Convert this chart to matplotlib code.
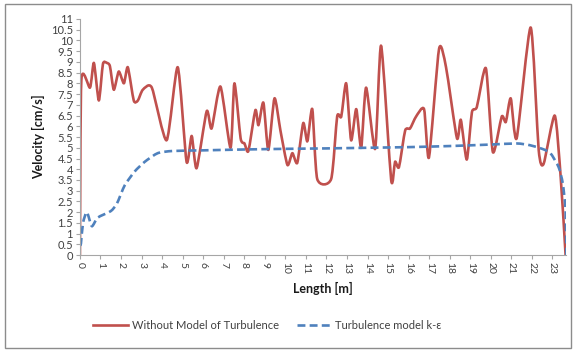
import numpy as np
import matplotlib
matplotlib.use("Agg")
import matplotlib.pyplot as plt
from matplotlib.patches import Rectangle, PathPatch
from matplotlib.path import Path
from matplotlib.lines import Line2D

# red series: without model of turbulence
x_red = [0, 0.07, 0.49, 0.68, 0.92, 1.12, 1.31, 1.46, 1.65, 1.89, 2.14, 2.33,
         2.62, 2.82, 3.06, 3.5, 4.22, 4.76, 5.19, 5.44, 5.68, 6.17, 6.41, 6.84,
         7.33, 7.52, 7.82, 8.01, 8.2, 8.54, 8.69, 8.93, 9.17, 9.47, 9.76, 10.1,
         10.34, 10.58, 10.87, 11.07, 11.31, 11.55, 12.23, 12.52, 12.72, 12.96,
         13.2, 13.45, 13.69, 13.93, 14.37, 14.66, 15.15, 15.34, 15.53, 15.83,
         16.07, 16.36, 16.75, 16.99, 17.48, 17.82, 18.35, 18.54, 18.83, 19.08,
         19.32, 19.76, 20.1, 20.53, 20.73, 20.97, 21.26, 21.94, 22.33, 22.57,
         23.11, 23.4, 23.64]
v_red = [0, 8.15, 7.8, 8.95, 7.2, 8.9, 8.95, 8.8, 7.7, 8.55, 8.0, 8.75,
         7.2, 7.2, 7.7, 7.8, 5.35, 8.75, 4.35, 5.55, 4.05, 6.7, 5.9, 7.85,
         5.0, 8.0, 5.45, 5.2, 4.85, 6.75, 6.05, 7.1, 4.9, 7.3, 5.8, 4.2,
         4.75, 4.3, 6.15, 5.3, 6.8, 3.55, 3.55, 6.45, 6.45, 8.0,
         5.35, 6.8, 5.0, 7.8, 4.95, 9.75, 3.5, 4.35, 4.1, 5.8,
         5.9, 6.45, 6.8, 4.55, 9.6, 8.75, 5.45, 6.3, 4.45, 6.65,
         6.9, 8.7, 4.8, 6.45, 6.2, 7.3, 5.45, 10.6, 4.9, 4.25,
         6.5, 3.65, 0]

# blue series: turbulence model k-e
x_blue = [0, 0.05, 0.15, 0.34, 0.58, 0.87, 1.5, 1.8, 2.18, 2.67, 3.16, 3.79,
          4.51, 6, 8, 10, 12, 14, 16, 18, 20, 21.26, 21.9, 22.5, 22.9, 23.3,
          23.5, 23.64, 23.68]
v_blue = [0.45, 0.55, 1.5, 2.0, 1.35, 1.75, 2.05, 2.4, 3.25, 3.9, 4.35, 4.75,
          4.85, 4.88, 4.92, 4.95, 4.97, 5.0, 5.03, 5.08, 5.15, 5.2, 5.12, 4.95,
          4.75, 4.1, 3.35, 2.1, 0]

x_ticks = list(range(0, 24))
y_ticks = [i * 0.5 for i in range(0, 23)]

red = '#C0504D'
blue = '#4F81BD'


def smooth_path(xs, ys, k=9.0):
    # smoothed line like excel: cubic bezier segments through the points
    p = np.column_stack([xs, ys]).astype(float)
    verts = [p[0]]
    codes = [Path.MOVETO]
    n = len(p)
    for i in range(n - 1):
        p0 = p[i - 1] if i > 0 else p[i]
        p1 = p[i]
        p2 = p[i + 1]
        p3 = p[i + 2] if i + 2 < n else p[i + 1]
        c1 = p1 + (p2 - p0) / k
        c2 = p2 - (p3 - p1) / k
        verts += [c1, c2, p2]
        codes += [Path.CURVE4] * 3
    return Path(verts, codes)


plt.rcParams['font.family'] = ['Lato', 'DejaVu Sans']

fig = plt.figure(figsize=(5.75, 3.5), dpi=100)
ax = fig.add_axes([0.139, 0.271, 0.845, 0.675])

ax.add_patch(PathPatch(smooth_path(x_red, v_red), fill=False, edgecolor=red,
                       lw=1.9, joinstyle='round', capstyle='round'))
ax.add_patch(PathPatch(smooth_path(x_blue, v_blue), fill=False, edgecolor=blue,
                       lw=1.9, ls=(0, (3, 1.6))))

ax.set_xlim(0, 23.65)
ax.set_ylim(0, 11)
ax.set_xticks(x_ticks)
ax.set_xticklabels([str(t) for t in x_ticks], rotation=-90, fontsize=7.5,
                   color='#404040')
ax.set_yticks(y_ticks)
ax.set_yticklabels(['%g' % t for t in y_ticks], fontsize=8, color='#404040')

for s in ['top', 'right']:
    ax.spines[s].set_visible(False)
for s in ['left', 'bottom']:
    ax.spines[s].set_color('#A6A6A6')
    ax.spines[s].set_linewidth(0.8)
ax.tick_params(axis='both', length=3, width=0.8, color='#A6A6A6', pad=2)

ax.set_xlabel('Length [m]', fontsize=9, fontweight='bold', color='#1a1a1a',
              labelpad=6)
ax.set_ylabel('Velocity [cm/s]', fontsize=9, fontweight='bold', color='#1a1a1a',
              labelpad=4)

handles = [Line2D([], [], color=red, lw=1.9),
           Line2D([], [], color=blue, lw=1.9, ls=(0, (3, 1.6)))]
labels = ['Without Model of Turbulence', 'Turbulence model k-\u03b5']
fig.legend(handles, labels, loc='center', bbox_to_anchor=(0.465, 0.07), ncol=2,
           frameon=False, fontsize=8, handlelength=3.2, handletextpad=0.3,
           columnspacing=1.6, labelcolor='#404040')

fig.patches.append(Rectangle((0.009, 0.006), 0.984, 0.982, transform=fig.transFigure,
                             fill=False, edgecolor='#8C8C8C', lw=1.0))

fig.savefig('out.png', dpi=100)
